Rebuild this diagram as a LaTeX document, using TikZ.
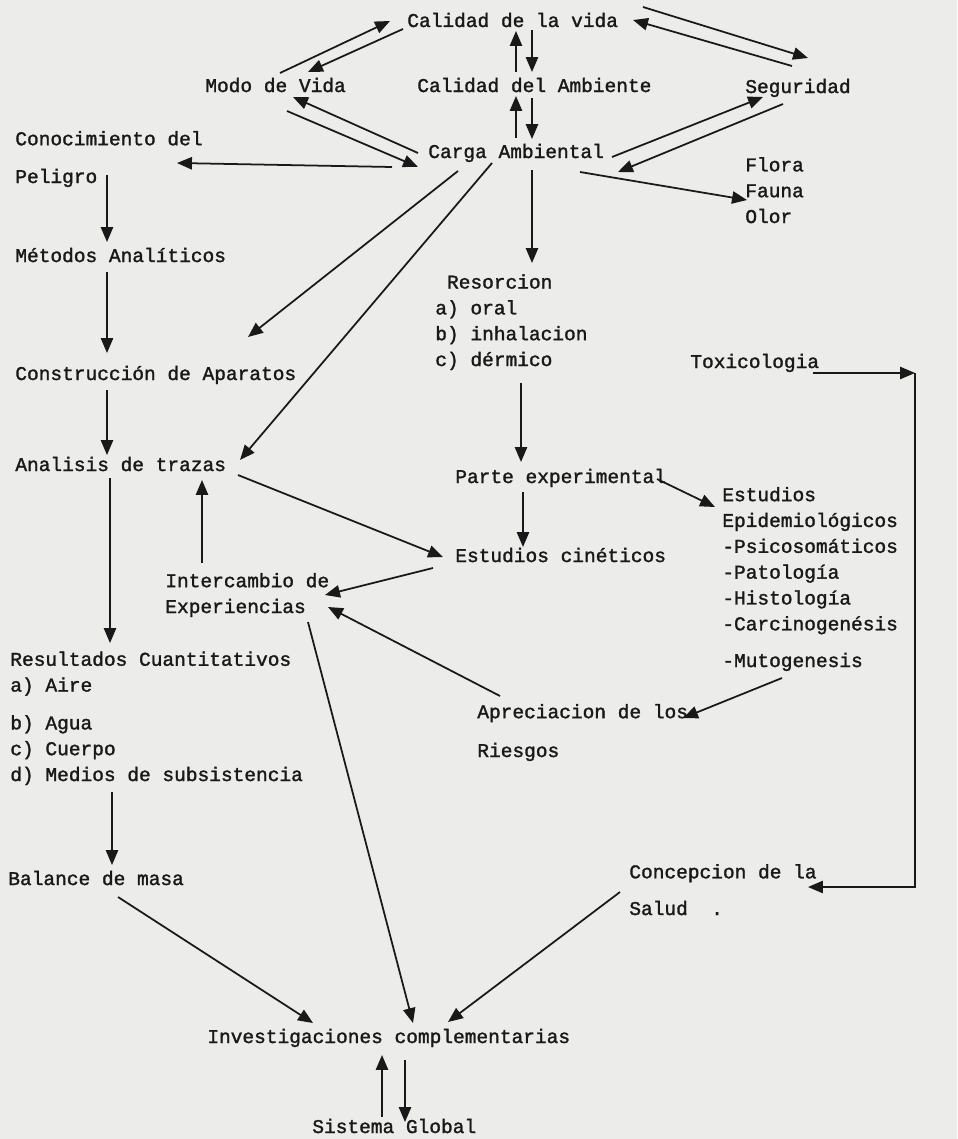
\documentclass[tikz,border=0pt]{standalone}
\usepackage{fontspec}
\newfontfamily\maquina{Liberation Mono}[FakeBold=1.5]
\usetikzlibrary{arrows.meta,calc}
\definecolor{papel}{RGB}{236,236,234}
\definecolor{tinta}{RGB}{25,25,25}
\tikzset{
  texto/.style={anchor=base west,inner sep=0pt,align=left,text=tinta,
    font=\maquina\fontsize{11.1pt}{14.7pt}\selectfont},
  flecha/.style={draw=tinta,line width=1pt,-{Triangle[length=8.5pt,width=7pt]}}
}

\begin{document}
\begin{tikzpicture}[x=0.02cm,y=-0.02cm]
\fill[papel] (0,0) rectangle (957,1139);
\useasboundingbox (0,0) rectangle (957,1139);

% fila de arriba
\node[texto] (vida) at (407,27) {Calidad de la vida};
\node[texto] (modo) at (205,92) {Modo de Vida};
\node[texto] (ambiente) at (417,92) {Calidad del Ambiente};
\node[texto] (seguridad) at (745,93) {Seguridad};
\node[texto] (carga) at (428,158) {Carga Ambiental};
\node[texto] (flora) at (745,223) {Flora\\Fauna\\Olor};

% columna izquierda
\node[texto] (peligro) at (15,183) {Conocimiento del\\[6.8pt]Peligro};
\node[texto] (metodos) at (15,262) {Métodos Analíticos};
\node[texto] (aparatos) at (15,380) {Construcción de Aparatos};
\node[texto] (trazas) at (15,471) {Analisis de trazas};
\node[texto] (resultados) at (10,781) {Resultados Cuantitativos\\a) Aire\\[6.8pt]b) Agua\\c) Cuerpo\\d) Medios de subsistencia};
\node[texto] (balance) at (8,885) {Balance de masa};

% centro y derecha
\node[texto] (resorcion) at (435,366) {~Resorcion\\a) oral\\b) inhalacion\\c) dérmico};
\node[texto] (tox) at (690,368) {Toxicologia};
\node[texto] (parte) at (455,483) {Parte experimental};
\node[texto] (epidem) at (722,667) {Estudios\\Epidemiológicos\\-Psicosomáticos\\-Patología\\-Histología\\-Carcinogenésis\\[6.2pt]-Mutogenesis};
\node[texto] (cineticos) at (455,562) {Estudios cinéticos};
\node[texto] (intercambio) at (165,613) {Intercambio de\\Experiencias};
\node[texto] (apreciacion) at (477,757) {Apreciacion de los\\[7.4pt]Riesgos};
\node[texto] (concepcion) at (629,915) {Concepcion de la\\[6.2pt]Salud~~.};
\node[texto] (investig) at (207,1043) {Investigaciones complementarias};
\node[texto] (sistema) at (312,1133) {Sistema Global};
\coordinate (esquina) at (915,373);

% flechas de arriba
\draw[flecha] ($(modo.base west)+(75,-19)$) -- ($(vida.base west)+(-17,-6)$);
\draw[flecha] ($(vida.base west)+(-4,2)$) -- ($(modo.base west)+(103,-20)$);
\draw[flecha] ($(ambiente.base west)+(99,-20)$) -- ($(vida.base west)+(109,4)$);
\draw[flecha] ($(vida.base west)+(125,3)$) -- ($(ambiente.base west)+(115,-20)$);
\draw[flecha] ($(carga.base west)+(88,-20)$) -- ($(ambiente.base west)+(99,4)$);
\draw[flecha] ($(ambiente.base west)+(115,6)$) -- ($(carga.base west)+(104,-19)$);
\draw[flecha] ($(carga.base west)+(-10,-5)$) -- ($(modo.base west)+(88,5)$);
\draw[flecha] ($(modo.base west)+(82,19)$) -- ($(carga.base west)+(-10,9)$);
\draw[flecha] ($(carga.base west)+(-36,9)$) -- ($(peligro.base west)+(162,-20)$);
\draw[flecha] ($(vida.base west)+(236,-20)$) -- ($(seguridad.base west)+(63,-35)$);
\draw[flecha] ($(seguridad.base west)+(47,-27)$) -- ($(vida.base west)+(226,-7)$);
\draw[flecha] ($(carga.base west)+(184,-1)$) -- ($(seguridad.base west)+(18,4)$);
\draw[flecha] ($(seguridad.base west)+(38,11)$) -- ($(carga.base west)+(190,14)$);
\draw[flecha] ($(carga.base west)+(152,14)$) -- ($(flora.base west)+(2,-23)$);
\draw[flecha] ($(carga.base west)+(30,13)$) -- ($(aparatos.base west)+(233,-43)$);
\draw[flecha] ($(carga.base west)+(64,5)$) -- ($(trazas.base west)+(225,-11)$);
\draw[flecha] ($(carga.base west)+(104,12)$) -- ($(resorcion.base west)+(97,-103)$);

% columna izquierda
\draw[flecha] ($(peligro.base west)+(92,-8)$) -- ($(metodos.base west)+(92,-20)$);
\draw[flecha] ($(metodos.base west)+(92,10)$) -- ($(aparatos.base west)+(92,-27)$);
\draw[flecha] ($(aparatos.base west)+(92,10)$) -- ($(trazas.base west)+(92,-16)$);
\draw[flecha] ($(trazas.base west)+(95,7)$) -- ($(resultados.base west)+(100,-138)$);
\draw[flecha] ($(resultados.base west)+(102,11)$) -- ($(balance.base west)+(104,-20)$);
\draw[flecha] ($(intercambio.base west)+(37,-50)$) -- ($(trazas.base west)+(187,9)$);
\draw[flecha] ($(trazas.base west)+(223,4)$) -- ($(cineticos.base west)+(-12,-5)$);
\draw[flecha] ($(cineticos.base west)+(-22,6)$) -- ($(intercambio.base west)+(160,-18)$);
\draw[flecha] ($(apreciacion.base west)+(23,-61)$) -- ($(intercambio.base west)+(163,-6)$);

% centro y derecha
\draw[flecha] ($(resorcion.base west)+(86,17)$) -- ($(parte.base west)+(66,-21)$);
\draw[flecha] ($(parte.base west)+(68,9)$) -- ($(cineticos.base west)+(68,-15)$);
\draw[flecha] ($(parte.base west)+(202,-4)$) -- ($(epidem.base west)+(-7,-160)$);
\draw[flecha] ($(epidem.base west)+(60,11)$) -- ($(apreciacion.base west)+(206,-39)$);
\draw[flecha] ($(tox.base west)+(123,5)$) -- (esquina);
\draw[flecha] (esquina) |- ($(concepcion.base west)+(179,-28)$);

% abajo
\draw[flecha] ($(intercambio.base west)+(143,9)$) -- ($(investig.base west)+(206,-20)$);
\draw[flecha] ($(balance.base west)+(110,12)$) -- ($(investig.base west)+(106,-20)$);
\draw[flecha] ($(concepcion.base west)+(-9,-23)$) -- ($(investig.base west)+(241,-21)$);
\draw[flecha] ($(sistema.base west)+(70,-16)$) -- ($(investig.base west)+(175,12)$);
\draw[flecha] ($(investig.base west)+(198,17)$) -- ($(sistema.base west)+(93,-11)$);
\end{tikzpicture}
\end{document}
